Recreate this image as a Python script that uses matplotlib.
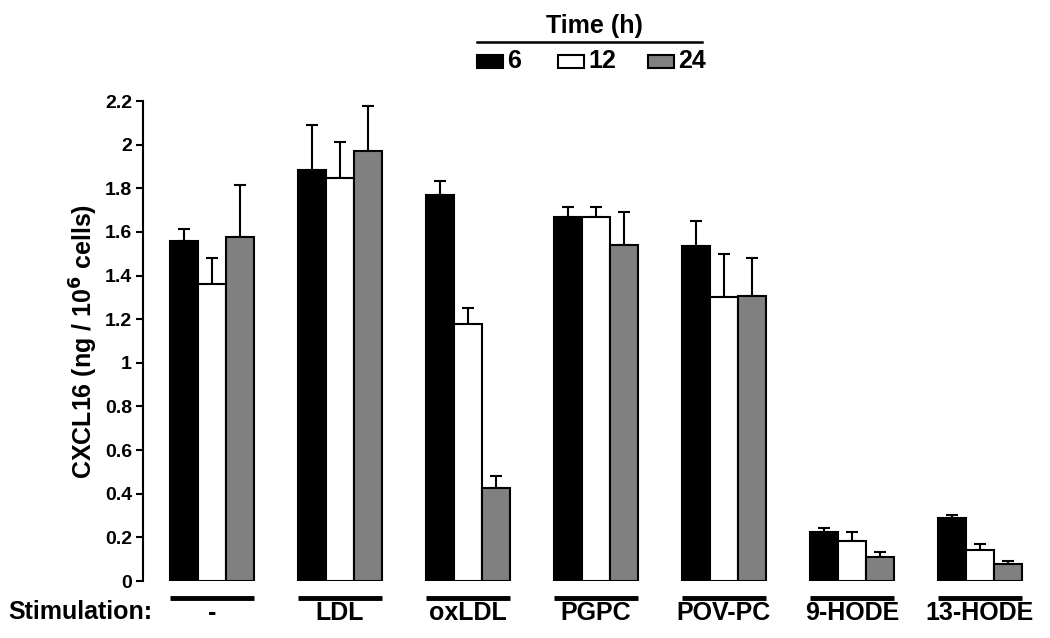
import matplotlib.pyplot as plt
from matplotlib.patches import Rectangle
import numpy as np

plt.rcParams['font.family'] = ['Liberation Sans', 'DejaVu Sans']
plt.rcParams['font.weight'] = 'bold'

stimulations = ["-", "LDL", "oxLDL", "PGPC", "POV-PC", "9-HODE", "13-HODE"]
times = ["6", "12", "24"]
colors = ["black", "white", "#808080"]

# mean values per time point
h6 = [1.56, 1.885, 1.77, 1.67, 1.535, 0.225, 0.29]
h12 = [1.36, 1.845, 1.18, 1.67, 1.30, 0.183, 0.142]
h24 = [1.575, 1.97, 0.425, 1.54, 1.305, 0.11, 0.078]

# upper error
e6 = [0.055, 0.205, 0.065, 0.045, 0.115, 0.018, 0.013]
e12 = [0.12, 0.165, 0.07, 0.045, 0.20, 0.042, 0.028]
e24 = [0.24, 0.205, 0.055, 0.15, 0.175, 0.023, 0.014]

means = [h6, h12, h24]
errs = [e6, e12, e24]

fig = plt.figure(figsize=(10.5, 6.38), dpi=100)
ax = fig.add_axes([143 / 1050, 1 - 581 / 638, (1044 - 143) / 1050, 480 / 638])

x = np.arange(len(stimulations))
w = 0.219
for i in range(3):
    pos = x + (i - 1) * w
    ax.bar(pos, means[i], w, color=colors[i], edgecolor="black", linewidth=1.5, zorder=2)
    ax.errorbar(pos, means[i], yerr=[np.zeros(len(x)), errs[i]], fmt="none",
                ecolor="black", elinewidth=1.5, capsize=4.5, capthick=1.5, zorder=1)

ax.set_xlim(-0.539, 6.5)
ax.set_ylim(0, 2.2)
ax.set_yticks(np.arange(0, 2.21, 0.2))
ax.set_yticklabels(["0", "0.2", "0.4", "0.6", "0.8", "1", "1.2", "1.4", "1.6", "1.8", "2", "2.2"])
ax.tick_params(axis="y", direction="out", length=5, width=1.5, labelsize=14, pad=3)
ax.set_xticks([])
for s in ["top", "right", "bottom"]:
    ax.spines[s].set_visible(False)
ax.spines["left"].set_linewidth(1.5)
ax.set_ylabel("CXCL16 (ng / 10$^{\\mathbf{6}}$ cells)", fontsize=18, fontweight="bold")
ax.yaxis.set_label_coords(-0.048, 0.5)

# group underlines and labels
trans = ax.get_xaxis_transform()
for xi, name in zip(x, stimulations):
    ax.plot([xi - 1.5 * w, xi + 1.5 * w], [-0.035, -0.035], color="black", lw=3.5,
            transform=trans, clip_on=False, solid_capstyle="butt")
    ax.text(xi, -0.066, name, transform=trans, ha="center", va="center", fontsize=18)
fig.text(8 / 1050, 1 - 612 / 638, "Stimulation:", ha="left", va="center", fontsize=18)

# legend
fig.text(594 / 1050, 1 - 26 / 638, "Time (h)", ha="center", va="center", fontsize=18)
fig.add_artist(plt.Line2D([477 / 1050, 702 / 1050], [1 - 42 / 638] * 2, color="black", lw=1.8))
box_x = [477, 558, 648]
for bx, c, t in zip(box_x, colors, times):
    fig.add_artist(Rectangle((bx / 1050, 1 - 68 / 638), 26 / 1050, 13 / 638,
                             facecolor=c, edgecolor="black", linewidth=1.5))
    fig.text((bx + 30) / 1050, 1 - 61 / 638, t, ha="left", va="center", fontsize=18)

fig.savefig("out.png", dpi=100)
